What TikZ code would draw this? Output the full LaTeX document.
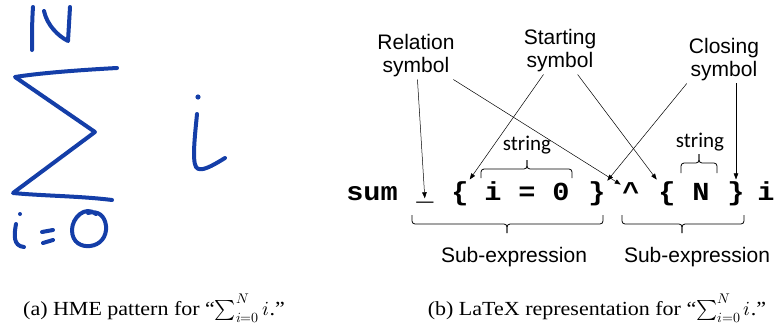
\documentclass[tikz,border=0pt]{standalone}
\usepackage{fontspec}
\usepackage{unicode-math}
\setmainfont{Liberation Serif}[FakeStretch=1.1]
\newfontfamily\lblfont{Liberation Sans}
\newfontfamily\strfont{Carlito}
\newfontfamily\codefont{Liberation Mono}[FakeStretch=1.1]
\usepackage{xcolor}
\usepackage{tikz}
\usetikzlibrary{arrows.meta}
\definecolor{ink}{RGB}{20,62,168}

\begin{document}
\begin{tikzpicture}[x=1pt,y=-1pt,
  lbl/.style={align=center,inner sep=2pt,font={\lblfont\fontsize{21}{23}\selectfont}},
  codech/.style={anchor=base,inner sep=1.5pt,font={\codefont\bfseries\fontsize{26}{28}\selectfont}},
  strg/.style={anchor=base,inner sep=1pt,font={\strfont\fontsize{21}{24}\selectfont}},
  subexp/.style={anchor=base,inner sep=1pt,font={\lblfont\fontsize{21}{24}\selectfont}},
  capt/.style={anchor=base,inner sep=1pt,font={\fontsize{20}{24}\selectfont}},
  ptr/.style={-{Triangle[length=6pt,width=4.5pt]},line width=0.5pt},
  brc/.style={line width=0.8pt,rounded corners=3pt},
  hw/.style={draw=ink,line width=4pt,line cap=round,line join=round}]
\useasboundingbox (0,0) rectangle (777,330);

% handwritten pattern
\draw[hw] (33,7) .. controls (32,20) and (32,36) .. (32,50);
\draw[hw] (44,11) .. controls (47,25) and (58,36) .. (68,41) -- (70,7);
\draw[hw] (117,68) .. controls (80,70) and (40,73) .. (15,77) -- (95,132) -- (13,193)
  .. controls (45,196) and (80,196) .. (112,200);
\fill[ink] (198,97) circle (2.6pt);
\draw[hw] (197,114) .. controls (195,135) and (192,160) .. (196,167)
  .. controls (200,173) and (212,166) .. (225,158);
\fill[ink] (20,214) circle (2pt);
\draw[hw] (16,224) .. controls (14,235) and (13,246) .. (24,247);
\draw[hw] (42,232) -- (53,230);
\draw[hw] (43,243) -- (53,240);
\draw[hw] (96,214) .. controls (85,205) and (72,218) .. (72,230)
  .. controls (72,243) and (82,247) .. (90,246)
  .. controls (100,245) and (107,237) .. (106,226)
  .. controls (105,216) and (98,210) .. (88,213);

% latex string
\node[codech] (cmd)  at (372,200) {sum};
\node[codech] (us)   at (425,200) {\_};
\node[codech] (lb1)  at (460,200) {\{};
\node[codech] (i1)   at (493,200) {i};
\node[codech] (eq)   at (527,200) {=};
\node[codech] (zero) at (561,200) {0};
\node[codech] (rb1)  at (597,200) {\}};
\node[codech] (hat)  at (631,200) {\char"5E};
\node[codech] (lb2)  at (667,200) {\{};
\node[codech] (nn)   at (701,200) {N};
\node[codech] (rb2)  at (736,200) {\}};
\node[codech] (i2)   at (766,200) {i};

\node[lbl] (rel) at (416,56) {Relation\\symbol};
\node[lbl] (sta) at (560,51) {Starting\\symbol};
\node[lbl] (clo) at (724,60) {Closing\\symbol};

\draw[ptr] (rel) -- (us);
\draw[ptr] (rel) -- (hat);
\draw[ptr] (sta) -- (lb1);
\draw[ptr] (sta) -- (lb2);
\draw[ptr] (clo.south west) -- (rb1);
\draw[ptr] (clo.south -| rb2) -- (rb2);

% braces
\node[strg] (str1) at (527,150) {string};
\draw[brc] (481,178) |- (527,169) -- (527,160);
\draw[brc] (572,178) |- (527,169) -- (527,160);
\node[strg] (str2) at (700,147) {string};
\draw[brc] (681,173) |- (699,163) -- (699,154);
\draw[brc] (717,173) |- (699,163) -- (699,154);

\draw[brc] (412,215) |- (507,224) -- (507,233);
\draw[brc] (603,215) |- (507,224) -- (507,233);
\node[subexp] (sub1) at (514,262) {Sub-expression};
\draw[brc] (622,215) |- (682,224) -- (682,233);
\draw[brc] (744,215) |- (682,224) -- (682,233);
\node[subexp] (sub2) at (697,262) {Sub-expression};

% captions
\node[capt] (capa) at (154,315) {(a) HME pattern for “$\sum_{i=0}^{N} i$.”};
\node[capt] (capb) at (597,315) {(b) LaTeX representation for “$\sum_{i=0}^{N} i$.”};
\end{tikzpicture}
\end{document}
